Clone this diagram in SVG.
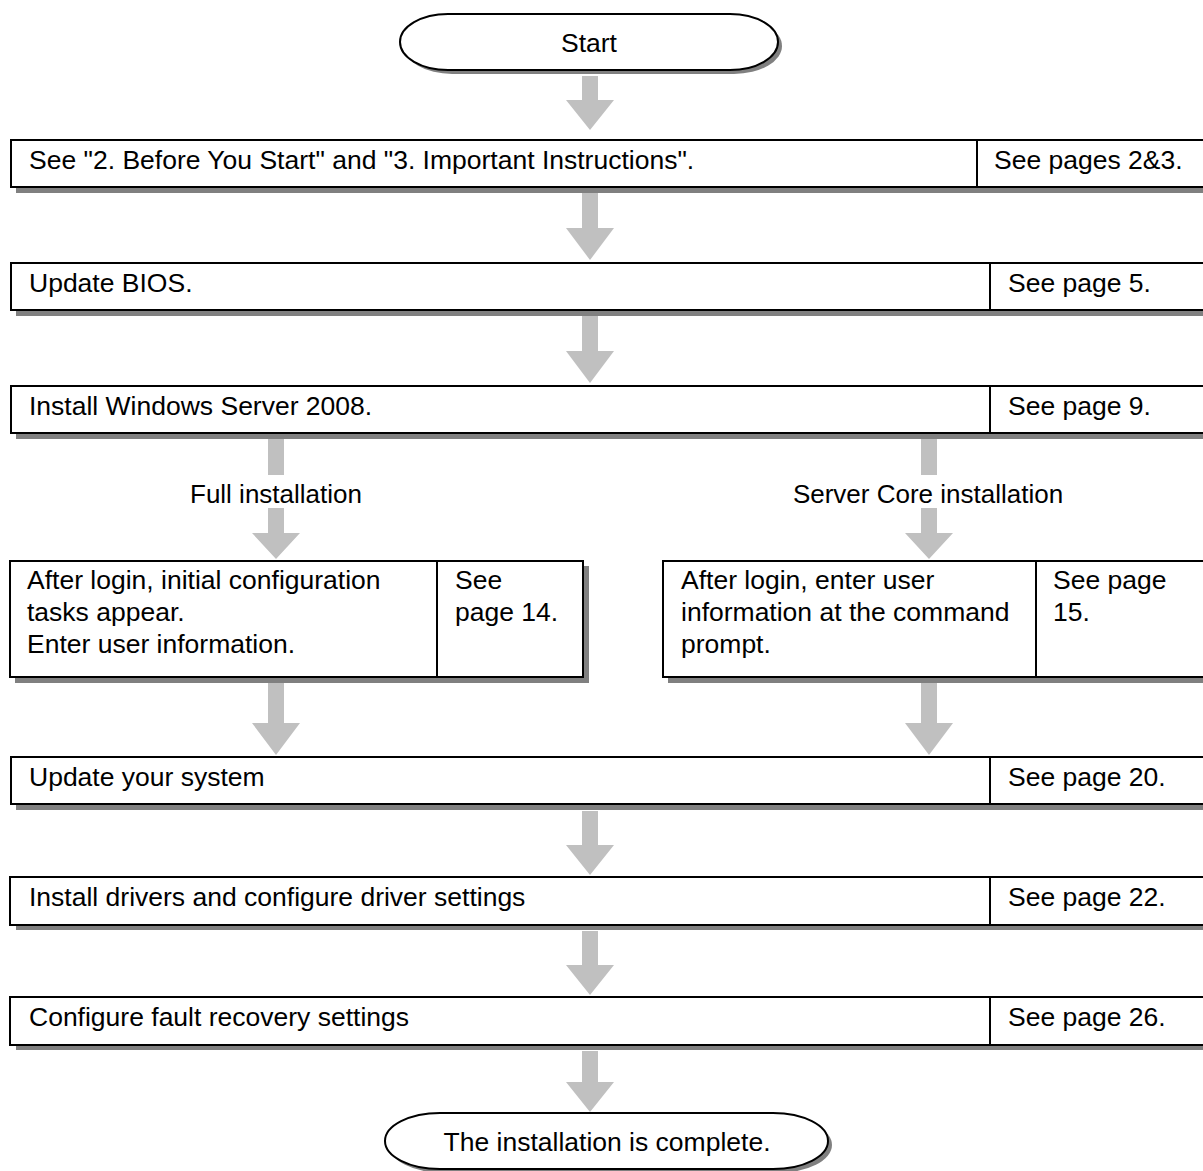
<svg xmlns="http://www.w3.org/2000/svg" width="1203" height="1171" viewBox="0 0 1203 1171">
<defs>
<style>
text{font-family:"Liberation Sans",Arial,sans-serif;font-size:26.5px;fill:#000}
.lbl{font-size:26px}
.box{fill:#fff;stroke:#000;stroke-width:2}
.sh{fill:#808080}
.div{stroke:#000;stroke-width:2}
.arr{fill:#c0c0c0}
.mid{text-anchor:middle}
</style>
</defs>
<rect width="1203" height="1171" fill="#fff"/>
<g id="connectors">
<polygon class="arr" points="582,76 598,76 598,100 614,100 590,130 566,100 582,100"/>
<polygon class="arr" points="582,193 598,193 598,228 614,228 590,260 566,228 582,228"/>
<polygon class="arr" points="582,316 598,316 598,351 614,351 590,383 566,351 582,351"/>
<rect class="arr" x="268" y="438" width="16" height="37"/>
<polygon class="arr" points="268,508 284,508 284,533 300,533 276,559 252,533 268,533"/>
<rect class="arr" x="921" y="438" width="16" height="37"/>
<polygon class="arr" points="921,508 937,508 937,533 953,533 929,559 905,533 921,533"/>
<polygon class="arr" points="268,683 284,683 284,723 300,723 276,755 252,723 268,723"/>
<polygon class="arr" points="921,683 937,683 937,723 953,723 929,755 905,723 921,723"/>
<polygon class="arr" points="582,811 598,811 598,845 614,845 590,875 566,845 582,845"/>
<polygon class="arr" points="582,931 598,931 598,965 614,965 590,995 566,965 582,965"/>
<polygon class="arr" points="582,1051 598,1051 598,1082 614,1082 590,1112 566,1082 582,1082"/>
<text class="mid lbl" x="276" y="503">Full installation</text>
<text class="mid lbl" x="928" y="503">Server Core installation</text>
</g>
<g id="start">
<rect class="sh" x="404" y="18" width="378" height="56" rx="48" ry="28"/>
<rect class="box" x="400" y="14" width="378" height="56" rx="48" ry="28"/>
<text class="mid" x="589" y="52">Start</text>
</g>
<g id="step1">
<rect class="sh" x="16" y="145" width="1200" height="48"/>
<rect class="box" x="11" y="140" width="1200" height="47"/>
<line class="div" x1="977" y1="140" x2="977" y2="187"/>
<text x="29" y="169">See "2. Before You Start" and "3. Important Instructions".</text>
<text x="994" y="169">See pages 2&amp;3.</text>
</g>
<g id="step2">
<rect class="sh" x="16" y="268" width="1200" height="48"/>
<rect class="box" x="11" y="263" width="1200" height="47"/>
<line class="div" x1="990" y1="263" x2="990" y2="310"/>
<text x="29" y="292">Update BIOS.</text>
<text x="1008" y="292">See page 5.</text>
</g>
<g id="step3">
<rect class="sh" x="16" y="391" width="1200" height="48"/>
<rect class="box" x="11" y="386" width="1200" height="47"/>
<line class="div" x1="990" y1="386" x2="990" y2="433"/>
<text x="29" y="415">Install Windows Server 2008.</text>
<text x="1008" y="415">See page 9.</text>
</g>
<g id="full">
<rect class="sh" x="15" y="566" width="574" height="117"/>
<rect class="box" x="10" y="561" width="573" height="116"/>
<line class="div" x1="437" y1="561" x2="437" y2="677"/>
<text x="27" y="589">After login, initial configuration</text>
<text x="27" y="621">tasks appear.</text>
<text x="27" y="653">Enter user information.</text>
<text x="455" y="589">See</text>
<text x="455" y="621">page 14.</text>
</g>
<g id="core">
<rect class="sh" x="668" y="566" width="560" height="117"/>
<rect class="box" x="663" y="561" width="560" height="116"/>
<line class="div" x1="1036" y1="561" x2="1036" y2="677"/>
<text x="681" y="589">After login, enter user</text>
<text x="681" y="621">information at the command</text>
<text x="681" y="653">prompt.</text>
<text x="1053" y="589">See page</text>
<text x="1053" y="621">15.</text>
</g>
<g id="step4">
<rect class="sh" x="16" y="762" width="1200" height="48"/>
<rect class="box" x="11" y="757" width="1200" height="47"/>
<line class="div" x1="990" y1="757" x2="990" y2="804"/>
<text x="29" y="786">Update your system</text>
<text x="1008" y="786">See page 20.</text>
</g>
<g id="step5">
<rect class="sh" x="16" y="882" width="1200" height="48"/>
<rect class="box" x="10" y="877" width="1200" height="48"/>
<line class="div" x1="990" y1="877" x2="990" y2="925"/>
<text x="29" y="906">Install drivers and configure driver settings</text>
<text x="1008" y="906">See page 22.</text>
</g>
<g id="step6">
<rect class="sh" x="16" y="1002" width="1200" height="48"/>
<rect class="box" x="10" y="997" width="1200" height="48"/>
<line class="div" x1="990" y1="997" x2="990" y2="1045"/>
<text x="29" y="1026">Configure fault recovery settings</text>
<text x="1008" y="1026">See page 26.</text>
</g>
<g id="end">
<rect class="sh" x="389" y="1117" width="443" height="56" rx="55" ry="28"/>
<rect class="box" x="385" y="1113" width="443" height="56" rx="55" ry="28"/>
<text class="mid" x="607" y="1151">The installation is complete.</text>
</g>
</svg>
